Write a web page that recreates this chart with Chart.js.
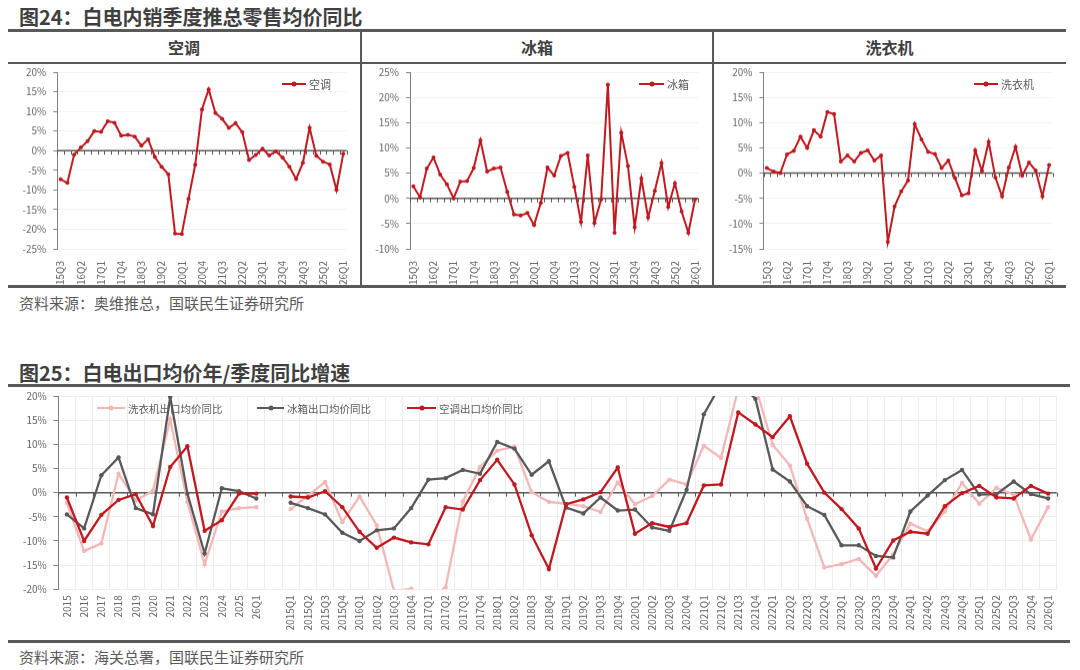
<!DOCTYPE html>
<html>
<head>
<meta charset="utf-8">
<script src="https://cdn.jsdelivr.net/npm/chart.js@4.4.1/dist/chart.umd.min.js"></script>
<style>
  body { margin: 0; background: #fff; }
  #page { position: relative; width: 1080px; height: 670px; overflow: hidden; background: #fff;
          font-family: "Noto Sans CJK SC", "Noto Sans", sans-serif; color: #404040; }
  .abs { position: absolute; }
  .title { font-weight: bold; font-size: 20px; line-height: 22px; height: 22px; color: #3f3f3f; white-space: nowrap; }
  .rule { background: #595959; }
  .hdr { font-weight: bold; font-size: 16px; line-height: 30px; height: 30px; text-align: center; color: #404040; }
  .src { font-size: 15px; line-height: 18px; color: #595959; white-space: nowrap; }
  .lg { display: flex; align-items: center; height: 14px; color: #595959; white-space: nowrap; }
  .lg i { display: inline-block; position: relative; height: 2px; margin-right: 3px; }
  .lg i::after { content: ''; position: absolute; left: 50%; top: 50%; width: 5px; height: 5px; border-radius: 50%;
                 background: inherit; transform: translate(-50%, -50%); }
  .wrap { position: absolute; }
</style>
</head>
<body>
<div id="page">
  <div class="abs title" style="left:19px;top:6px;">图24：白电内销季度推总零售均价同比</div>
  <div class="abs rule" style="left:8px;top:29px;width:1058px;height:2.5px;"></div>
  <div class="abs hdr" style="left:8px;top:32px;width:352px;">空调</div>
  <div class="abs hdr" style="left:361px;top:32px;width:352px;">冰箱</div>
  <div class="abs hdr" style="left:713px;top:32px;width:353px;">洗衣机</div>
  <div class="abs rule" style="left:8px;top:61.5px;width:1058px;height:2px;"></div>
  <div class="abs rule" style="left:360px;top:31px;width:2px;height:255px;"></div>
  <div class="abs rule" style="left:712px;top:31px;width:2px;height:255px;"></div>
  <div class="abs rule" style="left:8px;top:285px;width:1058px;height:2.5px;"></div>

  <div class="wrap" style="left:8px;top:58.3px;width:352px;height:226.7px;"><canvas id="c1"></canvas></div>
  <div class="wrap" style="left:362px;top:58.3px;width:350px;height:226.7px;"><canvas id="c2"></canvas></div>
  <div class="wrap" style="left:714px;top:58.3px;width:352px;height:226.7px;"><canvas id="c3"></canvas></div>

  <div class="abs lg" style="left:282px;top:77px;font-size:11px;"><i style="background:#C0191F;width:24px;"></i>空调</div>
  <div class="abs lg" style="left:639px;top:77px;font-size:11px;"><i style="background:#C0191F;width:25px;"></i>冰箱</div>
  <div class="abs lg" style="left:974px;top:77px;font-size:11px;"><i style="background:#C0191F;width:24px;"></i>洗衣机</div>

  <div class="abs src" style="left:19px;top:294px;">资料来源：奥维推总，国联民生证券研究所</div>

  <div class="abs title" style="left:19px;top:362px;">图25：白电出口均价年/季度同比增速</div>
  <div class="abs rule" style="left:8px;top:384px;width:1062px;height:2.5px;"></div>
  <div class="wrap" style="left:0px;top:381.7px;width:1070px;height:258.3px;"><canvas id="c4"></canvas></div>
  <div class="abs lg" style="left:97px;top:401px;font-size:10.5px;"><i style="background:#F4B6B6;width:28px;"></i>洗衣机出口均价同比</div>
  <div class="abs lg" style="left:257px;top:401px;font-size:10.5px;"><i style="background:#595959;width:27px;"></i>冰箱出口均价同比</div>
  <div class="abs lg" style="left:407px;top:401px;font-size:10.5px;"><i style="background:#C0191F;width:29px;"></i>空调出口均价同比</div>
  <div class="abs rule" style="left:8px;top:640px;width:1062px;height:3px;"></div>
  <div class="abs src" style="left:19px;top:648px;">资料来源：海关总署，国联民生证券研究所</div>
</div>

<script>
// ---------- data: 内销季度推总零售均价同比 (%) ----------
const topQuarters = ['15Q3','15Q4',
  '16Q1','16Q2','16Q3','16Q4','17Q1','17Q2','17Q3','17Q4',
  '18Q1','18Q2','18Q3','18Q4','19Q1','19Q2','19Q3','19Q4',
  '20Q1','20Q2','20Q3','20Q4','21Q1','21Q2','21Q3','21Q4',
  '22Q1','22Q2','22Q3','22Q4','23Q1','23Q2','23Q3','23Q4',
  '24Q1','24Q2','24Q3','24Q4','25Q1','25Q2','25Q3','25Q4',
  '26Q1'];
const acRetail = [-7.3,-8.2,-1.0,0.8,2.4,5.0,4.8,7.5,7.1,3.8,4.0,3.6,1.3,2.9,-1.6,-4.1,-6.0,-21.1,-21.2,-12.3,-3.6,
  10.5,15.6,9.6,8.1,5.8,7.0,4.7,-2.4,-1.1,0.5,-1.2,-0.2,-1.8,-4.1,-7.2,-3.1,5.8,-1.3,-2.8,-3.5,-10.0,-0.8];
const fridgeRetail = [2.4,0.2,5.9,8.1,4.7,2.8,0.0,3.3,3.4,6.0,11.5,5.3,5.9,6.1,1.3,-3.2,-3.4,-2.9,-5.3,-0.9,6.1,
  4.5,8.4,9.0,2.3,-4.7,8.5,-4.9,-0.2,22.5,-6.8,13.0,6.4,-5.7,3.9,-3.8,1.5,7.0,-1.7,3.0,-2.6,-6.8,-0.2];
const washerRetail = [1.0,0.3,0.0,3.7,4.4,7.2,5.0,8.5,7.2,12.1,11.7,2.3,3.5,2.3,4.0,4.5,2.5,3.5,-13.6,-6.6,-3.6,
  -1.5,9.7,6.7,4.2,3.8,1.0,2.5,-1.0,-4.4,-4.0,4.5,0.4,6.2,-0.9,-4.6,1.1,5.2,-0.5,2.1,0.5,-4.6,1.6];

// ---------- data: 出口均价同比 (%) ----------
const expYears = ['2015','2016','2017','2018','2019','2020','2021','2022','2023','2024','2025','26Q1'];
const expQuarters = ['2015Q1','2015Q2','2015Q3','2015Q4','2016Q1','2016Q2','2016Q3','2016Q4',
  '2017Q1','2017Q2','2017Q3','2017Q4','2018Q1','2018Q2','2018Q3','2018Q4',
  '2019Q1','2019Q2','2019Q3','2019Q4','2020Q1','2020Q2','2020Q3','2020Q4',
  '2021Q1','2021Q2','2021Q3','2021Q4','2022Q1','2022Q2','2022Q3','2022Q4',
  '2023Q1','2023Q2','2023Q3','2023Q4','2024Q1','2024Q2','2024Q3','2024Q4',
  '2025Q1','2025Q2','2025Q3','2025Q4','2026Q1'];
const washerExpYear = [-2.1,-12.1,-10.5,3.9,-1.6,0.4,15.2,-1.9,-14.8,-3.9,-3.2,-3.0];
const fridgeExpYear = [-4.5,-7.4,3.6,7.3,-3.2,-4.5,19.8,-0.2,-12.6,0.9,0.3,-1.2];
const acExpYear     = [-1.0,-10.0,-4.6,-1.5,-0.3,-6.9,5.3,9.6,-7.9,-5.7,-0.2,-0.2];
const washerExpQtr = [-3.4,-0.6,2.2,-6.1, -0.8,-6.8,-20.3,-19.9, -22.0,-19.6,-1.8,5.3, 8.7,9.5,0.1,-1.9,
  -2.3,-2.8,-4.0,2.1, -2.4,-0.7,2.7,1.7, 9.7,7.2,21.5,22.0, 9.9,5.6,-5.4,-15.5,
  -14.8,-13.7,-17.2,-12.8, -6.4,-8.0,-3.9,2.0, -2.3,1.0,-0.4,-9.7, -3.0];
const fridgeExpQtr = [-2.1,-3.2,-4.5,-8.3, -10.0,-7.8,-7.4,-3.2, 2.7,3.0,4.7,3.9, 10.5,9.1,3.7,6.5,
  -3.1,-4.3,-1.0,-3.7, -3.5,-7.2,-7.9,0.6, 16.2,22.5,23.0,19.4, 4.8,2.3,-2.8,-4.6,
  -10.9,-10.9,-13.1,-13.4, -3.9,-0.6,2.6,4.7, -0.4,-0.3,2.3,-0.3, -1.2];
const acExpQtr = [-0.8,-1.0,0.3,-3.0, -8.1,-11.4,-9.3,-10.3, -10.7,-3.0,-3.5,2.6, 6.8,1.7,-8.8,-15.8,
  -2.4,-1.4,0.1,5.2, -8.5,-6.3,-7.1,-6.3, 1.5,1.7,16.6,14.1, 11.5,15.8,6.0,0.0,
  -3.4,-7.4,-15.7,-9.9, -8.1,-8.5,-2.8,-0.1, 1.4,-1.0,-1.2,1.4, -0.2];

// ---------- styling ----------
const FONT = '"Noto Sans CJK SC", "Noto Sans", sans-serif';
const RED = '#C0191F', DARK = '#595959', PINK = '#F4B6B6';
const TICK = '#666666';

const zeroAxis = {
  id: 'zeroAxis',
  beforeDatasetsDraw(chart, args, opts) {
    const xs = chart.scales.x, ys = chart.scales.y, ctx = chart.ctx;
    const y0 = ys.getPixelForValue(0);
    const n = chart.data.labels.length;
    ctx.save();
    ctx.strokeStyle = opts.color;
    ctx.lineWidth = opts.width;
    ctx.beginPath();
    ctx.moveTo(xs.left, y0);
    ctx.lineTo(xs.right, y0);
    ctx.stroke();
    ctx.lineWidth = 1;
    ctx.beginPath();
    for (let i = 0; i <= n; i++) {
      const px = Math.round(xs.getPixelForValue(i - 0.5)) + 0.5;
      ctx.moveTo(px, y0);
      ctx.lineTo(px, y0 + opts.tick);
    }
    ctx.stroke();
    ctx.restore();
  }
};

function retailPanel(id, labels, values, name, ymin, ymax, box) {
  new Chart(document.getElementById(id), {
    type: 'line',
    data: {
      labels: labels,
      datasets: [{
        label: name, data: values,
        borderColor: RED, backgroundColor: RED, borderWidth: 2,
        pointRadius: 2, pointBackgroundColor: RED, pointBorderColor: RED, pointBorderWidth: 0,
        tension: 0
      }]
    },
    options: {
      responsive: true, maintainAspectRatio: false, animation: false,
      layout: { padding: { top: box.top, right: box.right, left: 0, bottom: 0 } },
      plugins: { legend: { display: false }, tooltip: { enabled: false },
                 zeroAxis: { color: '#595959', width: 1.5, tick: 4 } },
      scales: {
        x: {
          offset: true,
          grid: { display: false },
          border: { display: false },
          ticks: { autoSkip: false, maxRotation: 90, minRotation: 90, padding: 4, color: TICK,
                   font: { size: 10, family: FONT },
                   callback: (v, i) => (i % 3 === 0 ? labels[i] : '') },
          afterFit: s => { s.height = box.xh; }
        },
        y: {
          min: ymin, max: ymax,
          ticks: { stepSize: 5, padding: 7, color: TICK, font: { size: 10, family: FONT }, callback: v => v + '%' },
          grid: { color: '#f2f2f2', tickColor: '#808080', tickLength: 4, drawTicks: true },
          border: { display: true, color: '#808080' },
          afterFit: s => { s.width = box.left; }
        }
      }
    },
    plugins: [zeroAxis]
  });
}

retailPanel('c1', topQuarters, acRetail, '空调', -25, 20, { left: 49.3, top: 14, right: 13.4, xh: 36.7 });
retailPanel('c2', topQuarters, fridgeRetail, '冰箱', -10, 25, { left: 48, top: 14, right: 13.6, xh: 36.7 });
retailPanel('c3', topQuarters, washerRetail, '洗衣机', -15, 20, { left: 49.5, top: 14, right: 13.5, xh: 36.7 });

// ---------- export chart ----------
const expLabels = expYears.concat([''], expQuarters);
const joinSeries = (yearVals, qtrVals) => yearVals.concat([null], qtrVals);

function expDataset(name, values, color, order) {
  return {
    label: name, data: values, order: order,
    borderColor: color, backgroundColor: color, borderWidth: 2.3,
    pointRadius: 2.2, pointBackgroundColor: color, pointBorderColor: color, pointBorderWidth: 0,
    tension: 0, spanGaps: false
  };
}

new Chart(document.getElementById('c4'), {
  type: 'line',
  data: {
    labels: expLabels,
    datasets: [
      expDataset('洗衣机出口均价同比', joinSeries(washerExpYear, washerExpQtr), PINK, 3),
      expDataset('冰箱出口均价同比', joinSeries(fridgeExpYear, fridgeExpQtr), DARK, 2),
      expDataset('空调出口均价同比', joinSeries(acExpYear, acExpQtr), RED, 1)
    ]
  },
  options: {
    responsive: true, maintainAspectRatio: false, animation: false,
    layout: { padding: { top: 14, right: 13.3, left: 0, bottom: 0 } },
    plugins: { legend: { display: false }, tooltip: { enabled: false },
               zeroAxis: { color: '#595959', width: 1.5, tick: 4 } },
    scales: {
      x: {
        offset: true,
        grid: { display: true, offset: true, color: '#ededed', drawTicks: false },
        border: { display: false },
        ticks: { autoSkip: false, maxRotation: 90, minRotation: 90, padding: 6, color: TICK,
                 font: { size: 10, family: FONT } },
        afterFit: s => { s.height = 51; }
      },
      y: {
        min: -20, max: 20,
        ticks: { stepSize: 5, padding: 6.5, color: TICK, font: { size: 10, family: FONT }, callback: v => v + '%' },
        grid: { color: '#eeeeee', tickColor: '#808080', tickLength: 5, drawTicks: true },
        border: { display: true, color: '#808080' },
        afterFit: s => { s.width = 58.3; }
      }
    }
  },
  plugins: [zeroAxis]
});
</script>
</body>
</html>
